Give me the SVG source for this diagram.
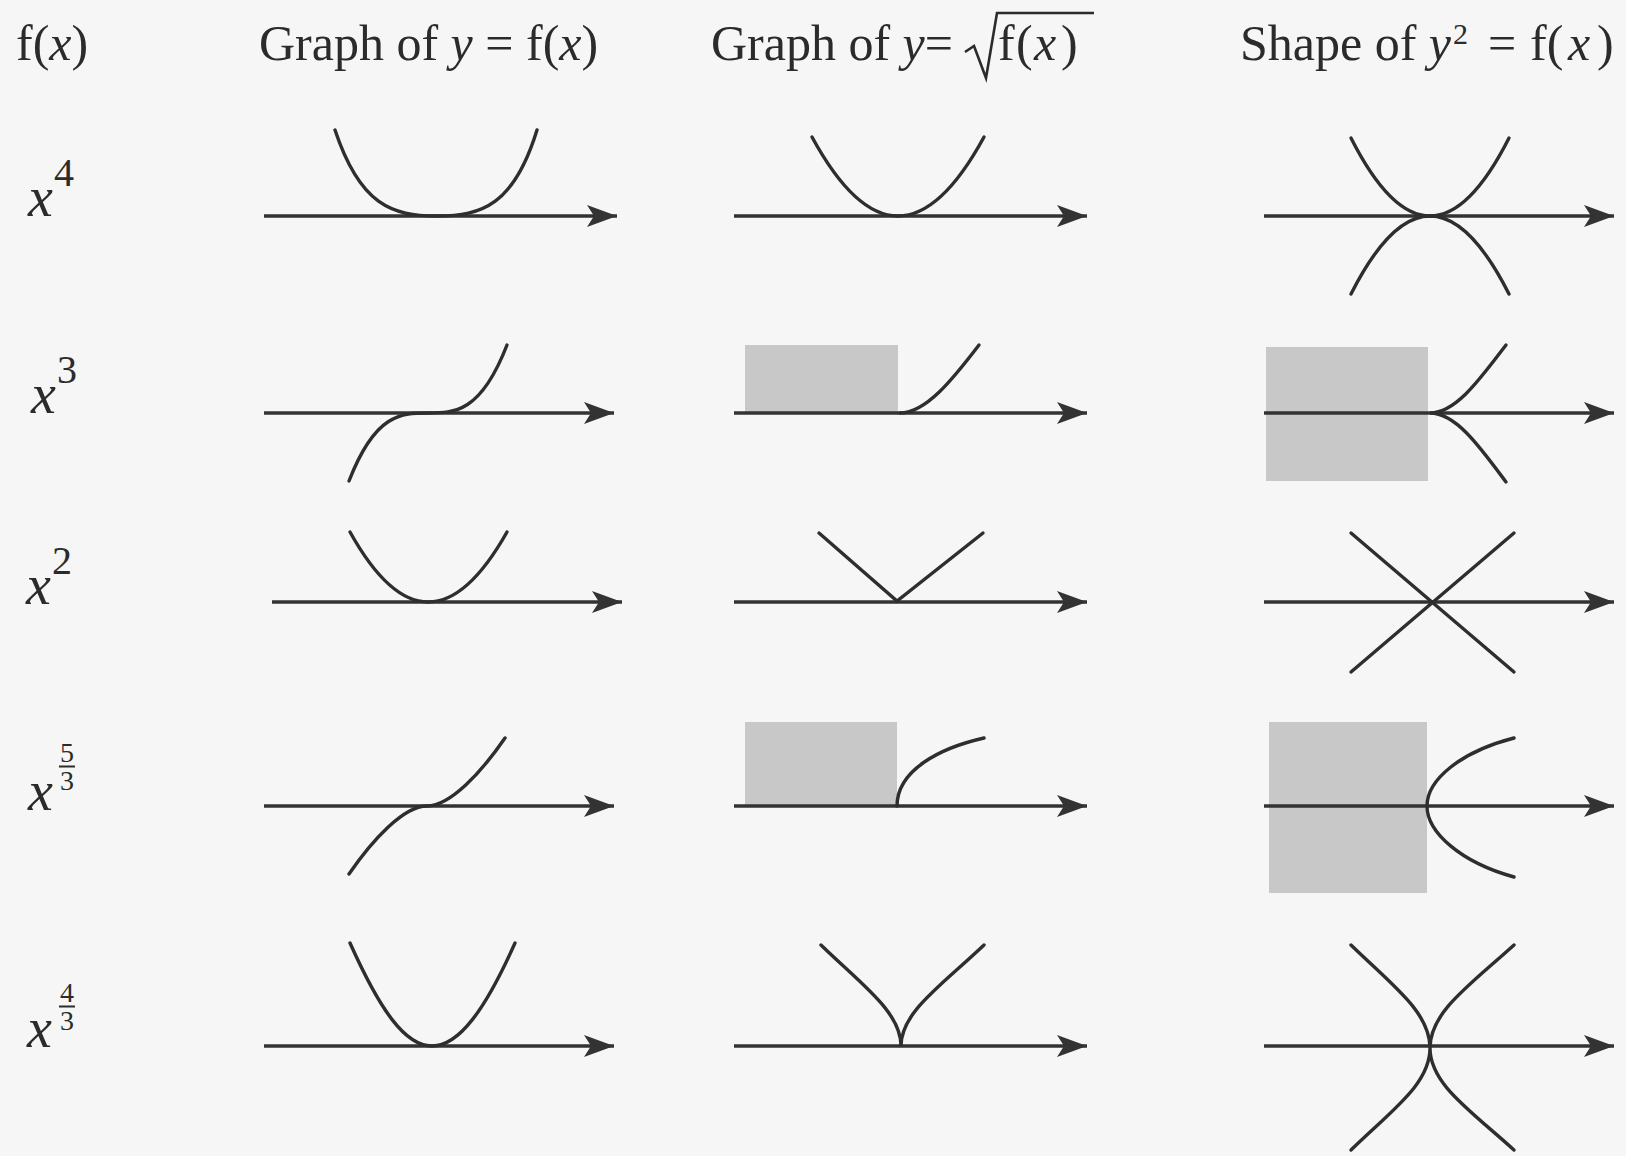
<svg xmlns="http://www.w3.org/2000/svg" width="1626" height="1156" viewBox="0 0 1626 1156">
<defs>
<marker id="ah" markerUnits="userSpaceOnUse" markerWidth="32" markerHeight="22" refX="30" refY="11" orient="auto">
<path d="M0,0 L30,11 L0,22 L7,11 Z" fill="#333"/>
</marker>
<style>
.t{font-family:"Liberation Serif","Times New Roman",serif;font-size:50px;fill:#2b2b2b}
.i{font-style:italic}
.lab{font-family:"Liberation Serif","Times New Roman",serif;font-size:56px;font-style:italic;fill:#2b2b2b}
.sup{font-family:"Liberation Serif","Times New Roman",serif;font-size:40px;fill:#2b2b2b}
.fr{font-family:"Liberation Serif","Times New Roman",serif;font-size:28px;fill:#2b2b2b;text-anchor:middle}
.ax{stroke:#333;stroke-width:3.6;fill:none;marker-end:url(#ah)}
.cv{stroke:#2e2e2e;stroke-width:3.4;fill:none;stroke-linecap:round}
.sh{fill:#c8c8c8}
.bar{stroke:#2b2b2b;stroke-width:2}
</style>
</defs>
<rect x="0" y="0" width="1626" height="1156" fill="#f6f6f6"/>

<g id="headers">
<text class="t" x="16" y="60">f(<tspan class="i">x</tspan>)</text>
<text class="t" x="259" y="60">Graph of <tspan class="i">y</tspan> = f(<tspan class="i">x</tspan>)</text>
<text class="t" x="711" y="60">Graph of <tspan class="i">y</tspan>=</text>
<path d="M965,52 L974,46 L986,78 L997,13 L1094,13" stroke="#2b2b2b" stroke-width="2.6" fill="none"/>
<text class="t" y="60"><tspan x="998">f</tspan><tspan x="1016">(</tspan><tspan x="1034" class="i">x</tspan><tspan x="1061">)</tspan></text>
<text class="t" y="60"><tspan x="1240">Shape of </tspan><tspan class="i">y</tspan><tspan x="1453" y="44" font-size="30">2</tspan><tspan x="1488" y="60">=</tspan><tspan x="1530">f(</tspan><tspan x="1568" class="i">x</tspan><tspan x="1597">)</tspan></text>
</g>

<g id="row-labels">
<g id="label-x4"><text class="lab" x="28" y="216">x</text><text class="sup" x="54" y="186">4</text></g>
<g id="label-x3"><text class="lab" x="31" y="413">x</text><text class="sup" x="57" y="383">3</text></g>
<g id="label-x2"><text class="lab" x="26" y="604">x</text><text class="sup" x="52" y="574">2</text></g>
<g id="label-x53"><text class="lab" x="28" y="810">x</text><text class="fr" x="67" y="762">5</text><line class="bar" x1="59" y1="766.5" x2="75" y2="766.5"/><text class="fr" x="67" y="790">3</text></g>
<g id="label-x43"><text class="lab" x="27" y="1047">x</text><text class="fr" x="67" y="1002">4</text><line class="bar" x1="59" y1="1006.5" x2="75" y2="1006.5"/><text class="fr" x="67" y="1030">3</text></g>
</g>

<g id="shading">
<rect class="sh" x="745" y="345" width="153" height="68"/>
<rect class="sh" x="1266" y="347" width="162" height="134"/>
<rect class="sh" x="745" y="722" width="152" height="84"/>
<rect class="sh" x="1269" y="722" width="158" height="171"/>
</g>

<g id="axes">
<line class="ax" x1="264" y1="216" x2="617" y2="216"/>
<line class="ax" x1="734" y1="216" x2="1087" y2="216"/>
<line class="ax" x1="1264" y1="216" x2="1614" y2="216"/>
<line class="ax" x1="264" y1="413" x2="614" y2="413"/>
<line class="ax" x1="734" y1="413" x2="1087" y2="413"/>
<line class="ax" x1="1264" y1="413" x2="1614" y2="413"/>
<line class="ax" x1="272" y1="602" x2="622" y2="602"/>
<line class="ax" x1="734" y1="602" x2="1087" y2="602"/>
<line class="ax" x1="1264" y1="602" x2="1614" y2="602"/>
<line class="ax" x1="264" y1="806" x2="614" y2="806"/>
<line class="ax" x1="734" y1="806" x2="1087" y2="806"/>
<line class="ax" x1="1264" y1="806" x2="1614" y2="806"/>
<line class="ax" x1="264" y1="1046" x2="614" y2="1046"/>
<line class="ax" x1="734" y1="1046" x2="1087" y2="1046"/>
<line class="ax" x1="1264" y1="1046" x2="1614" y2="1046"/>
</g>

<g id="curves">
<path class="cv" d="M335,130 C360,205 392,216 437,216 C482,216 514,205 537,130"/>
<path class="cv" d="M812,137 Q898,295 984,137"/>
<path class="cv" d="M1351,138 Q1430,294 1509,138"/>
<path class="cv" d="M1351,294 Q1430,138 1509,294"/>

<path class="cv" d="M349,481 C401.7,345 454.3,481 507,345"/>
<path class="cv" d="M900,413 C926,413 953,379 979,345"/>
<path class="cv" d="M1506,345 C1480,379 1456,413 1430,413 C1456,413 1480,447 1506,482"/>

<path class="cv" d="M350,532 Q428,672 507,532"/>
<path class="cv" d="M819,533 L897,601 L983,533" stroke-linejoin="miter"/>
<path class="cv" d="M1351,533 L1514,672 M1514,533 L1351,672"/>

<path class="cv" d="M349,874 C372.4,840 403.6,806 427,806 C450.4,806 481.6,772 505,738"/>
<path class="cv" d="M897,806 C897,770 940,748 984,738"/>
<path class="cv" d="M1514,738 C1460,752 1427,780 1427,806 C1427,832 1460,862 1514,877"/>

<path class="cv" d="M350,943 C380,1010 405,1046 432,1046 C459,1046 485,1010 515,943"/>
<path class="cv" d="M821,945 C862,985 901,1012 901,1046 C901,1012 942,985 984,945"/>
<path class="cv" d="M1351,945 C1392,985 1430,1012 1430,1048 C1430,1012 1470,985 1514,945"/>
<path class="cv" d="M1351,1150 C1392,1110 1430,1084 1430,1048 C1430,1084 1470,1110 1514,1150"/>
</g>
</svg>
